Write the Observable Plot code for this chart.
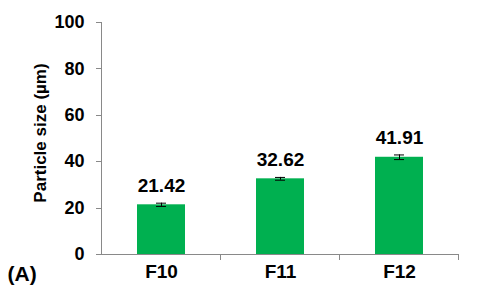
<!DOCTYPE html>
<html><head><meta charset="utf-8">
<script src="https://cdn.jsdelivr.net/npm/d3@7"></script>
<script src="https://cdn.jsdelivr.net/npm/@observablehq/plot@0.6"></script>
<style>body{margin:0;background:#fff}</style>
</head><body><div id="chart"></div>
<script>
const categories = ["F10", "F11", "F12"];
const values = [21.42, 32.62, 41.91];
const errors = [0.7, 0.6, 1.0];
const yTicks = [0, 20, 40, 60, 80, 100];
const panelLabel = "(A)";
const yLabel = "Particle size (µm)";

const data = categories.map((c, i) => ({cat: c, v: values[i], e: errors[i], lab: values[i].toFixed(2)}));
const axisColor = "#898989";
const font = "'Liberation Sans', Arial, sans-serif";

const chart = Plot.plot({
  width: 480, height: 300,
  marginLeft: 101, marginRight: 22, marginTop: 22, marginBottom: 46,
  style: {fontFamily: font, fontWeight: "bold", fontSize: "17px", color: "#000", background: "#fff"},
  x: {domain: categories, paddingInner: 0.6, paddingOuter: 0.3, label: null, axis: null},
  y: {domain: [0, 100], label: null, axis: null},
  marks: [
    Plot.barY(data, {x: "cat", y: "v", fill: "#00B050"}),
    Plot.ruleX(data, {x: "cat", y1: d => d.v - d.e, y2: d => d.v + d.e, stroke: "#000", strokeWidth: 1}),
    Plot.tickY(data, {x: "cat", y: d => d.v + d.e, stroke: "#000", inset: 19}),
    Plot.tickY(data, {x: "cat", y: d => d.v - d.e, stroke: "#000", inset: 19}),
    Plot.text(data, {x: "cat", y: d => d.v + d.e, text: "lab", dy: -11, lineAnchor: "bottom", fontSize: 19, fontWeight: "bold", fill: "#000"}),
    (index, scales, values, dims) => {
      const g = d3.create("svg:g");
      const x0 = dims.marginLeft, x1 = dims.width - dims.marginRight;
      const yb = dims.height - dims.marginBottom;
      g.append("line").attr("x1", x0).attr("x2", x1).attr("y1", yb + 0.5).attr("y2", yb + 0.5).attr("stroke", axisColor);
      g.append("line").attr("x1", x0 + 0.5).attr("x2", x0 + 0.5).attr("y1", dims.marginTop).attr("y2", yb).attr("stroke", axisColor);
      for (const t of yTicks) {
        const yy = Math.round(scales.y(t)) + 0.5;
        g.append("line").attr("x1", x0 - 5).attr("x2", x0).attr("y1", yy).attr("y2", yy).attr("stroke", axisColor);
      }
      const n = categories.length;
      for (let i = 1; i <= n; i++) {
        const xx = Math.round(x0 + i * (x1 - x0) / n) + 0.5;
        g.append("line").attr("x1", xx).attr("x2", xx).attr("y1", yb).attr("y2", yb + 6).attr("stroke", axisColor);
      }
      return g.node();
    },
    Plot.text(yTicks, {y: d => d, text: d => String(d), frameAnchor: "left", textAnchor: "end", dx: -17, fontSize: 18, fontWeight: "bold", fill: "#000"}),
    Plot.text(categories, {x: d => d, text: d => d, frameAnchor: "bottom", dy: 23, fontSize: 19, fontWeight: "bold", fill: "#000"}),
    Plot.text([yLabel], {text: d => d, frameAnchor: "left", textAnchor: "middle", dx: -61, dy: -5.5, rotate: -90, fontSize: 17, fontWeight: "bold", fill: "#000"}),
    Plot.text([panelLabel], {text: d => d, frameAnchor: "bottom-left", dx: -94, dy: 26, textAnchor: "start", fontSize: 21, fontWeight: "bold", fill: "#000"})
  ]
});
document.getElementById("chart").appendChild(chart);
</script>
</body></html>
